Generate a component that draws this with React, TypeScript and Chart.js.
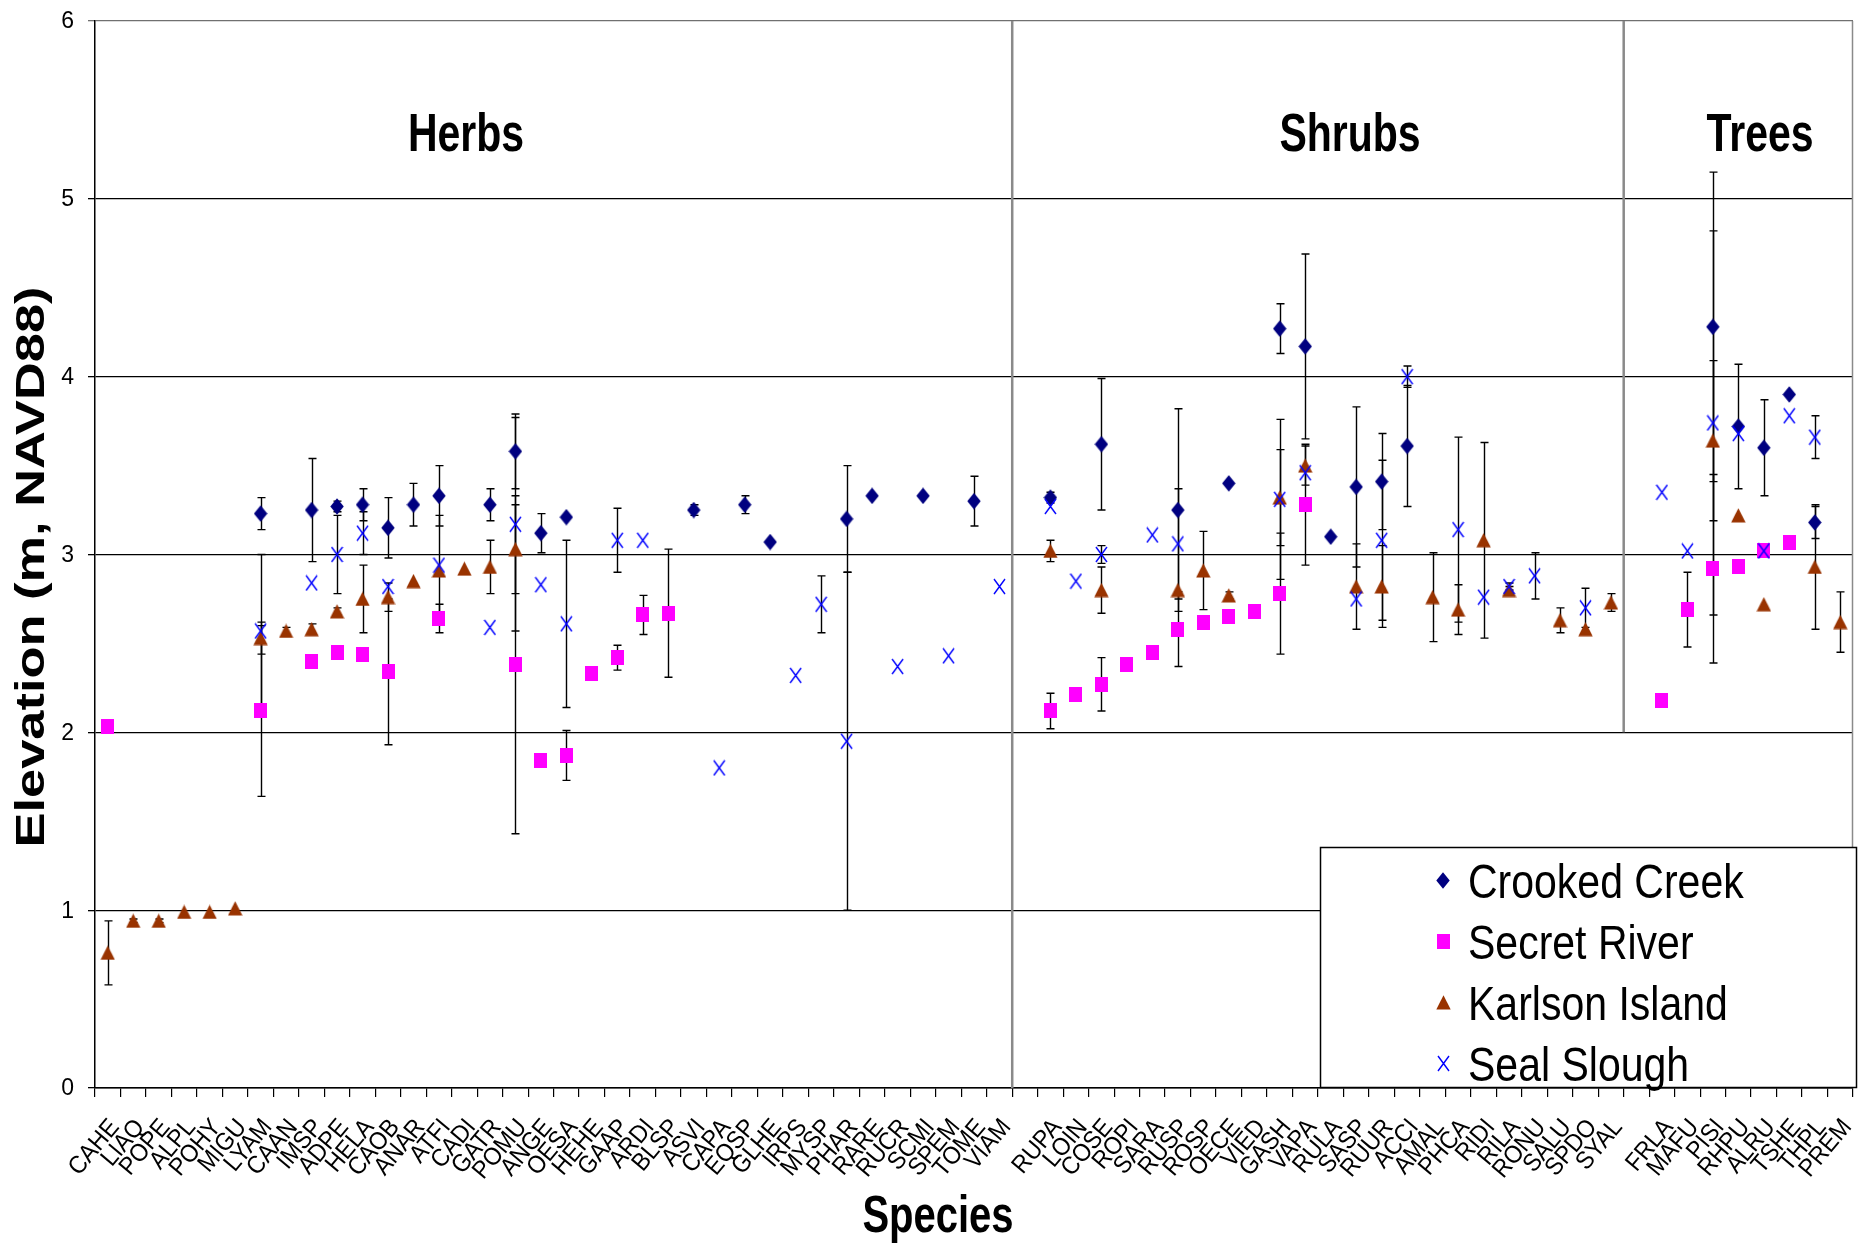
import { useEffect, useRef } from "react";
import { Chart, registerables } from "chart.js";

Chart.register(...registerables);

const W = 1860;
const H = 1245;
const FONT = '"Liberation Sans", Arial, sans-serif';

// Species codes by growth form
const herbs = ["CAHE", "LIAQ", "POPE", "ALPL", "POHY", "MIGU", "LYAM", "CAAN", "IMSP", "ADPE", "HELA", "CAOB", "ANAR", "ATFI", "CADI", "GATR", "POMU", "ANGE", "OESA", "HEHE", "GAAP", "ARDI", "BLSP", "ASVI", "CAPA", "EQSP", "GLHE", "IRPS", "MYSP", "PHAR", "RARE", "RUCR", "SCMI", "SPEM", "TOME", "VIAM"];
const shrubs = ["RUPA", "LOIN", "COSE", "ROPI", "SARA", "RUSP", "ROSP", "OECE", "VIED", "GASH", "VAPA", "RULA", "SASP", "RUUR", "ACCI", "AMAL", "PHCA", "RIDI", "RILA", "RONU", "SALU", "SPDO", "SYAL"];
const trees = ["FRLA", "MAFU", "PISI", "RHPU", "ALRU", "TSHE", "THPL", "PREM"];

const _ = null;

// Crooked Creek: mean elevation (m) and standard deviation
const crookedHerbs = [_, _, _, _, _, _, 3.23, _, 3.25, 3.27, 3.28, 3.15, 3.28, 3.33, _, 3.28, 3.58, 3.12, 3.21, _, _, _, _, 3.25, _, 3.28, 3.07, _, _, 3.2, 3.33, _, 3.33, _, 3.3, _];
const crookedHerbsSd = [_, _, _, _, _, _, 0.09, _, 0.29, 0.03, 0.09, 0.17, 0.12, 0.17, _, 0.09, 0.21, 0.11, _, _, _, _, _, 0.03, _, 0.05, _, _, _, 0.3, _, _, _, _, 0.14, _];
const crookedShrubs = [3.32, _, 3.62, _, _, 3.25, _, 3.4, _, 4.27, 4.17, 3.1, 3.38, 3.41, 3.61, _, _, _, _, _, _, _, _];
const crookedShrubsSd = [0.03, _, 0.37, _, _, 0.57, _, _, _, 0.14, 0.52, _, 0.45, 0.27, 0.34, _, _, _, _, _, _, _, _];
const crookedTrees = [_, _, 4.28, 3.72, 3.6, 3.9, 3.18, _];
const crookedTreesSd = [_, _, 0.87, 0.35, 0.27, _, 0.09, _];

// Secret River
const secretHerbs = [2.03, _, _, _, _, _, 2.12, _, 2.4, 2.45, 2.44, 2.34, _, 2.64, _, _, 2.38, 1.84, 1.87, 2.33, 2.42, 2.66, 2.67, _, _, _, _, _, _, _, _, _, _, _, _, _];
const secretHerbsSd = [_, _, _, _, _, _, 0.48, _, _, _, _, 0.41, _, 0.08, _, _, 0.95, _, 0.14, _, 0.07, 0.11, 0.36, _, _, _, _, _, _, _, _, _, _, _, _, _];
const secretShrubs = [2.12, 2.21, 2.27, 2.38, 2.45, 2.58, 2.62, 2.65, 2.68, 2.78, 3.28, _, _, _, _, _, _, _, _, _, _, _, _];
const secretShrubsSd = [0.1, _, 0.15, _, _, 0.21, _, _, _, 0.34, 0.34, _, _, _, _, _, _, _, _, _, _, _, _];
const secretTrees = [2.18, 2.69, 2.92, 2.93, 3.02, 3.07, _, _];
const secretTreesSd = [_, 0.21, 0.53, _, _, _, _, _];

// Karlson Island
const karlsonHerbs = [0.76, 0.94, 0.94, 0.99, 0.99, 1.01, 2.53, 2.57, 2.58, 2.68, 2.75, 2.76, 2.85, 2.91, 2.92, 2.93, 3.03, _, _, _, _, _, _, _, _, _, _, _, _, _, _, _, _, _, _, _];
const karlsonHerbsSd = [0.18, 0.01, 0.01, _, _, _, 0.09, 0.02, 0.03, 0.02, 0.19, 0.08, _, _, _, 0.15, 0.25, _, _, _, _, _, _, _, _, _, _, _, _, _, _, _, _, _, _, _];
const karlsonShrubs = [3.02, _, 2.8, _, _, 2.8, 2.91, 2.77, _, 3.32, 3.5, _, 2.82, 2.82, _, 2.76, 2.69, 3.08, 2.8, _, 2.63, 2.58, 2.73];
const karlsonShrubsSd = [0.06, _, 0.13, _, _, _, 0.22, 0.02, _, 0.27, 0.11, _, 0.24, 0.23, _, 0.25, 0.14, 0.55, 0.02, _, 0.07, _, 0.05];
const karlsonTrees = [_, _, 3.64, 3.22, 2.72, _, 2.93, 2.62];
const karlsonTreesSd = [_, _, 0.45, _, _, _, 0.35, 0.17];

// Seal Slough
const sealHerbs = [_, _, _, _, _, _, 2.57, _, 2.84, 3.0, 3.12, 2.82, _, 2.94, _, 2.59, 3.17, 2.83, 2.61, _, 3.08, 3.08, _, _, 1.8, _, _, 2.32, 2.72, 1.95, _, 2.37, _, 2.43, _, 2.82];
const sealHerbsSd = [_, _, _, _, _, _, 0.43, _, _, 0.22, 0.12, _, _, 0.28, _, _, 0.6, _, 0.47, _, 0.18, _, _, _, _, _, _, _, 0.16, 0.95, _, _, _, _, _, _];
const sealShrubs = [3.27, 2.85, 3.0, _, 3.11, 3.06, _, _, _, 3.31, 3.46, _, 2.75, 3.08, 4.0, _, 3.14, 2.76, 2.82, 2.88, _, 2.7, _];
const sealShrubsSd = [_, _, 0.05, _, _, 0.31, _, _, _, 0.45, _, _, _, 0.45, 0.06, _, 0.52, _, 0.02, 0.13, _, 0.11, _];
const sealTrees = [3.35, 3.02, 3.74, 3.68, 3.02, 3.78, 3.66, _];
const sealTreesSd = [_, _, 1.08, _, _, _, 0.12, _];

const seriesNames = ["Crooked Creek", "Secret River", "Karlson Island", "Seal Slough"];
const groupLabels = ["Herbs", "Shrubs", "Trees"];
const yTicks = [0, 1, 2, 3, 4, 5, 6];

// one empty slot separates the growth forms on the category axis
const joinGroups = (h: (number | null)[], s: (number | null)[], t: (number | null)[]) => [...h, null, ...s, null, ...t];
const species = [...herbs, "", ...shrubs, "", ...trees];

const means = [
  joinGroups(crookedHerbs, crookedShrubs, crookedTrees),
  joinGroups(secretHerbs, secretShrubs, secretTrees),
  joinGroups(karlsonHerbs, karlsonShrubs, karlsonTrees),
  joinGroups(sealHerbs, sealShrubs, sealTrees),
];
const sds = [
  joinGroups(crookedHerbsSd, crookedShrubsSd, crookedTreesSd),
  joinGroups(secretHerbsSd, secretShrubsSd, secretTreesSd),
  joinGroups(karlsonHerbsSd, karlsonShrubsSd, karlsonTreesSd),
  joinGroups(sealHerbsSd, sealShrubsSd, sealTreesSd),
];

function makeMarker(kind: number): HTMLCanvasElement {
  const c = document.createElement("canvas");
  const sizes = [[14, 17], [13, 15], [15, 15], [13, 17]];
  c.width = sizes[kind][0];
  c.height = sizes[kind][1];
  const g = c.getContext("2d")!;
  const w = c.width;
  const h = c.height;
  if (kind === 0) {
    g.fillStyle = "#000080";
    g.beginPath();
    g.moveTo(w / 2, 0.3);
    g.lineTo(w - 0.3, h / 2);
    g.lineTo(w / 2, h - 0.3);
    g.lineTo(0.3, h / 2);
    g.closePath();
    g.fill();
  } else if (kind === 1) {
    g.fillStyle = "#FF00FF";
    g.fillRect(0, 0, w, h);
  } else if (kind === 2) {
    g.fillStyle = "#993300";
    g.beginPath();
    g.moveTo(w / 2, 0.3);
    g.lineTo(w - 0.3, h - 0.5);
    g.lineTo(0.3, h - 0.5);
    g.closePath();
    g.fill();
  } else {
    g.strokeStyle = "#0000FF";
    g.lineWidth = 1.4;
    g.beginPath();
    g.moveTo(1, 1);
    g.lineTo(w - 1, h - 1);
    g.moveTo(w - 1, 1);
    g.lineTo(1, h - 1);
    g.stroke();
  }
  return c;
}

function drawText(
  ctx: CanvasRenderingContext2D,
  text: string,
  x: number,
  y: number,
  font: string,
  align: CanvasTextAlign,
  baseline: CanvasTextBaseline,
  rot: number,
  sy: number,
  sx = 1
) {
  ctx.save();
  ctx.translate(x, y);
  ctx.scale(1, sy);
  ctx.rotate(rot);
  ctx.scale(sx, 1);
  ctx.font = font;
  ctx.fillStyle = "#000";
  ctx.textAlign = align;
  ctx.textBaseline = baseline;
  ctx.fillText(text, 0, 0);
  ctx.restore();
}

export default function App() {
  const ref = useRef<HTMLCanvasElement | null>(null);

  useEffect(() => {
    document.body.style.margin = "0";
    document.body.style.overflow = "hidden";
    const canvas = ref.current;
    if (!canvas) return;
    const markers = [0, 1, 2, 3].map(makeMarker);

    const decor = {
      id: "decor",
      beforeDatasetsDraw(chart: any) {
        const { ctx, chartArea, scales } = chart;
        const x = scales.x;
        const y = scales.y;
        ctx.save();
        // group dividers
        const slot = x.getPixelForValue(1) - x.getPixelForValue(0);
        const div1 = x.getPixelForValue(herbs.length) - slot / 2;
        const div2 = x.getPixelForValue(herbs.length + 1 + shrubs.length) - slot / 2;
        ctx.strokeStyle = "#8a8a8a";
        ctx.lineWidth = 2.5;
        ctx.beginPath();
        ctx.moveTo(div1, chartArea.top);
        ctx.lineTo(div1, chartArea.bottom);
        ctx.moveTo(div2, chartArea.top);
        ctx.lineTo(div2, y.getPixelForValue(2));
        ctx.stroke();
        ctx.lineWidth = 1.5;
        ctx.beginPath();
        ctx.moveTo(chartArea.right - 0.5, chartArea.top);
        ctx.lineTo(chartArea.right - 0.5, chartArea.bottom);
        ctx.stroke();
        // error bars (± one standard deviation)
        ctx.strokeStyle = "#000";
        ctx.lineWidth = 1.4;
        const cap = 4;
        for (let s = 0; s < means.length; s++) {
          for (let i = 0; i < species.length; i++) {
            const m = means[s][i];
            const d = sds[s][i];
            if (m == null || d == null) continue;
            const px = Math.round(x.getPixelForValue(i)) + 0.5;
            const top = y.getPixelForValue(m + d);
            const bot = y.getPixelForValue(m - d);
            ctx.beginPath();
            ctx.moveTo(px, top);
            ctx.lineTo(px, bot);
            ctx.moveTo(px - cap, top);
            ctx.lineTo(px + cap, top);
            ctx.moveTo(px - cap, bot);
            ctx.lineTo(px + cap, bot);
            ctx.stroke();
          }
        }
        ctx.restore();
      },
      afterDraw(chart: any) {
        const { ctx, chartArea, scales } = chart;
        const x = scales.x;
        const y = scales.y;
        // elevation tick labels
        yTicks.forEach((v) => {
          drawText(ctx, String(v), chartArea.left - 21, y.getPixelForValue(v) + 1, `23px ${FONT}`, "right", "middle", 0, 1);
        });
        // species labels
        species.forEach((name, i) => {
          if (!name) return;
          drawText(ctx, name, x.getPixelForValue(i) + 7, chartArea.bottom + 35, `25px ${FONT}`, "right", "middle", (-50 * Math.PI) / 180, 1, 0.92);
        });
        // group headings
        const headX = [466, 1350, 1760];
        groupLabels.forEach((g, k) => drawText(ctx, g, headX[k], 151, `bold 41px ${FONT}`, "center", "alphabetic", 0, 1.29));
        // axis titles
        drawText(ctx, "Species", 938, 1232, `bold 40px ${FONT}`, "center", "alphabetic", 0, 1.29);
        drawText(ctx, "Elevation (m, NAVD88)", 33, 567, `bold 40px ${FONT}`, "center", "middle", -Math.PI / 2, 1.31);
        // legend
        ctx.save();
        ctx.fillStyle = "#fff";
        ctx.fillRect(1320, 847, 537, 241);
        ctx.strokeStyle = "#000";
        ctx.lineWidth = 1.5;
        ctx.strokeRect(1320.5, 847.5, 536, 240);
        ctx.restore();
        seriesNames.forEach((n, k) => {
          const base = 898 + k * 61;
          const mk = markers[k];
          ctx.drawImage(mk, Math.round(1443 - mk.width / 2), Math.round(base - 18 - mk.height / 2));
          drawText(ctx, n, 1468, base, `41px ${FONT}`, "left", "alphabetic", 0, 1.18);
        });
      },
    };

    const colors = ["#000080", "#FF00FF", "#993300", "#0000FF"];
    const chart = new Chart(canvas, {
      type: "line",
      data: {
        labels: species,
        datasets: seriesNames.map((n, k) => ({
          label: n,
          data: means[k],
          showLine: false,
          pointStyle: markers[k] as any,
          pointRadius: 6,
          borderColor: colors[k],
          backgroundColor: colors[k],
          order: 3 - k,
        })),
      },
      options: {
        responsive: false,
        animation: false,
        devicePixelRatio: 1,
        events: [],
        layout: { padding: { top: 21, right: 3, left: 0, bottom: 0 } },
        plugins: { legend: { display: false }, tooltip: { enabled: false } },
        scales: {
          x: {
            type: "category",
            offset: true,
            ticks: { display: false },
            grid: { offset: true, drawOnChartArea: false, drawTicks: true, tickLength: 9, color: "#000", lineWidth: 1.2 },
            border: { color: "#000", width: 1.5 },
            afterFit: (s: any) => {
              s.height = 157;
            },
          },
          y: {
            min: 0,
            max: 6,
            afterBuildTicks: (s: any) => {
              s.ticks = yTicks.map((v) => ({ value: v }));
            },
            ticks: { display: false },
            grid: {
              color: (c: any) => (c.tick && c.tick.value === 6 ? "#707070" : "#000"),
              lineWidth: 1.3,
              tickLength: 7,
            },
            border: { color: "#000", width: 1.5 },
            afterFit: (s: any) => {
              s.width = 95;
            },
          },
        },
      },
      plugins: [decor],
    });
    return () => chart.destroy();
  }, []);

  return (
    <div style={{ width: W, height: H }}>
      <canvas ref={ref} width={W} height={H} style={{ display: "block" }} />
    </div>
  );
}
